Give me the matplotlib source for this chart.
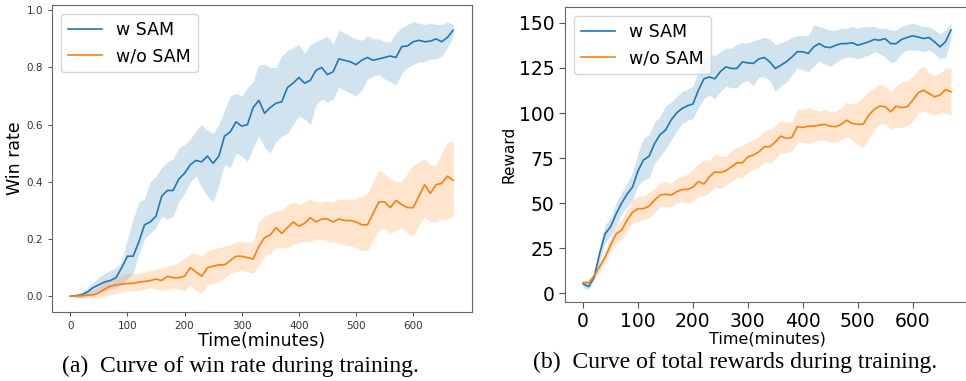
import numpy as np
import matplotlib
matplotlib.use('Agg')
from matplotlib import pyplot as plt

# time axis (minutes), one sample every 10 minutes
t = np.arange(0, 680, 10)

# win rate, w SAM
win_sam = [0.0, 0.002, 0.005, 0.015, 0.03, 0.04, 0.05, 0.055, 0.065, 0.10,
           0.14, 0.14, 0.19, 0.25, 0.26, 0.28, 0.35, 0.37, 0.37, 0.41,
           0.43, 0.46, 0.475, 0.47, 0.49, 0.465, 0.49, 0.56, 0.575, 0.61,
           0.595, 0.60, 0.66, 0.685, 0.64, 0.66, 0.675, 0.68, 0.73, 0.745,
           0.765, 0.745, 0.755, 0.79, 0.80, 0.775, 0.785, 0.83, 0.825, 0.82,
           0.81, 0.825, 0.835, 0.825, 0.83, 0.835, 0.84, 0.835, 0.873, 0.875,
           0.89, 0.895, 0.89, 0.892, 0.90, 0.89, 0.905, 0.93]
win_sam_hi = [0.0, 0.008, 0.015, 0.03, 0.05, 0.065, 0.08, 0.09, 0.10, 0.12,
              0.20, 0.27, 0.33, 0.34, 0.40, 0.42, 0.45, 0.47, 0.48, 0.52,
              0.53, 0.55, 0.58, 0.60, 0.58, 0.57, 0.60, 0.65, 0.70, 0.71,
              0.70, 0.73, 0.75, 0.81, 0.81, 0.80, 0.80, 0.84, 0.86, 0.87,
              0.88, 0.85, 0.88, 0.89, 0.90, 0.91, 0.88, 0.93, 0.92, 0.91,
              0.90, 0.895, 0.91, 0.90, 0.90, 0.89, 0.89, 0.92, 0.94, 0.95,
              0.96, 0.955, 0.95, 0.955, 0.95, 0.95, 0.96, 0.95]
win_sam_lo = [0.0, -0.004, -0.005, 0.0, 0.01, 0.015, 0.02, 0.025, 0.03, 0.04,
              0.06, 0.08, 0.15, 0.20, 0.22, 0.24, 0.28, 0.27, 0.28, 0.33,
              0.36, 0.40, 0.42, 0.38, 0.35, 0.33, 0.39, 0.46, 0.45, 0.50,
              0.49, 0.47, 0.52, 0.56, 0.52, 0.50, 0.54, 0.56, 0.57, 0.60,
              0.63, 0.62, 0.60, 0.67, 0.69, 0.68, 0.69, 0.73, 0.72, 0.71,
              0.70, 0.72, 0.76, 0.77, 0.775, 0.76, 0.75, 0.74, 0.78, 0.80,
              0.81, 0.82, 0.82, 0.83, 0.83, 0.84, 0.87, 0.91]

# win rate, w/o SAM
win_nosam = [0.0, 0.001, 0.002, 0.004, 0.005, 0.012, 0.025, 0.035, 0.04, 0.042,
             0.045, 0.045, 0.05, 0.052, 0.055, 0.06, 0.055, 0.07, 0.065, 0.065,
             0.07, 0.10, 0.085, 0.07, 0.10, 0.105, 0.11, 0.11, 0.125, 0.14,
             0.14, 0.135, 0.13, 0.175, 0.205, 0.215, 0.24, 0.22, 0.24, 0.26,
             0.245, 0.255, 0.275, 0.26, 0.27, 0.27, 0.26, 0.27, 0.265, 0.265,
             0.26, 0.25, 0.25, 0.29, 0.33, 0.33, 0.31, 0.335, 0.32, 0.31,
             0.31, 0.35, 0.39, 0.36, 0.39, 0.395, 0.42, 0.405]
win_nosam_hi = [0.0, 0.005, 0.01, 0.015, 0.02, 0.035, 0.05, 0.06, 0.07, 0.075,
                0.08, 0.08, 0.08, 0.085, 0.09, 0.095, 0.10, 0.105, 0.11, 0.12,
                0.13, 0.15, 0.15, 0.14, 0.16, 0.165, 0.17, 0.175, 0.18, 0.19,
                0.19, 0.19, 0.19, 0.26, 0.28, 0.29, 0.30, 0.30, 0.32, 0.33,
                0.32, 0.33, 0.34, 0.33, 0.33, 0.335, 0.33, 0.34, 0.34, 0.34,
                0.34, 0.35, 0.36, 0.40, 0.44, 0.43, 0.41, 0.40, 0.40, 0.43,
                0.46, 0.47, 0.48, 0.46, 0.46, 0.50, 0.54, 0.54]
win_nosam_lo = [0.0, -0.003, -0.005, -0.005, -0.005, -0.003, 0.0, 0.005, 0.01, 0.015,
                0.02, 0.02, 0.02, 0.025, 0.03, 0.025, 0.02, 0.025, 0.03, 0.025,
                0.02, 0.04, 0.02, 0.01, 0.04, 0.045, 0.05, 0.065, 0.08, 0.085,
                0.09, 0.085, 0.08, 0.11, 0.14, 0.15, 0.17, 0.17, 0.17, 0.18,
                0.19, 0.19, 0.19, 0.20, 0.20, 0.19, 0.19, 0.185, 0.18, 0.175,
                0.17, 0.16, 0.16, 0.20, 0.23, 0.24, 0.22, 0.23, 0.24, 0.22,
                0.21, 0.25, 0.28, 0.26, 0.26, 0.27, 0.27, 0.28]

# total reward, w SAM
rew_sam = [5.2, 3.7, 9, 22, 33, 37, 44, 50, 55, 59,
           68, 74, 76, 83, 88, 90.5, 96, 100, 102.5, 104,
           105, 112.7, 119, 120, 119, 123, 125.6, 124.7, 124.7, 128.4,
           127.8, 127.5, 130, 130.8, 128.4, 124.7, 126.5, 128.4, 131, 134,
           134, 133, 136.7, 138.5, 136.7, 136.3, 137.6, 138.5, 138.5, 139,
           137.6, 138.5, 139.5, 140.8, 140.4, 141.3, 138.5, 138.5, 140.8, 141.9,
           142.8, 142.2, 141.3, 141.9, 139.5, 136.7, 139.5, 146]
rew_sam_hi = [7, 6, 11, 26, 38, 42, 50, 56, 61, 67,
              78, 86, 88, 95, 98, 104, 106, 109, 112, 113,
              115, 123, 130, 132, 132, 134, 136, 136, 138, 139,
              139, 140, 141, 142, 141, 138, 139, 140, 142, 143,
              143, 143, 149, 148, 147, 146, 146, 147, 147, 148,
              147, 148, 148, 148, 147, 147, 146, 146, 148, 149,
              150, 149, 148, 148, 146, 144, 146, 150]
rew_sam_lo = [3, 2, 7, 18, 28, 32, 38, 44, 48, 52,
              60, 63, 64, 72, 76, 80, 85, 90, 94, 96,
              97, 103, 108, 110, 108, 112, 115, 114, 114, 117,
              118, 115, 120, 120, 118, 112, 115, 117, 121, 125,
              124, 123, 126, 129, 127, 126, 128, 130, 131, 131,
              130, 131, 132, 134, 133, 131, 128, 129, 133, 135,
              135, 135, 134, 135, 133, 130, 131, 141]

# total reward, w/o SAM
rew_nosam = [6, 6, 9.6, 14.8, 20, 26.8, 33, 35, 40.6, 45,
             47, 47, 48.4, 51.7, 54.5, 55, 54.5, 56.3, 57.6, 57.6,
             59, 62, 60.6, 64.7, 67.4, 67, 68, 70.2, 72.4, 72.4,
             75.7, 76.7, 78.5, 81.3, 81.3, 84, 87.2, 85.9, 86.5, 92.4,
             92, 92.7, 92.7, 93.3, 93.8, 92.7, 92.4, 93.8, 96, 94.2,
             93.8, 93.8, 98.8, 102, 103.8, 103.5, 100.7, 103.8, 103, 103.5,
             107, 111.2, 112.7, 110.8, 109, 110, 113, 111.8]
rew_nosam_hi = [7, 7, 12, 18, 24, 31, 38, 41, 47, 52,
                54, 54, 56, 58, 61, 62, 61, 64, 65, 66,
                69, 72, 74, 74, 77, 76, 76, 79, 81, 82,
                84, 85, 87, 90, 91, 93, 96, 95, 95, 102,
                102, 103, 102, 101, 102, 101, 101, 103, 106, 105,
                106, 109, 112, 114, 116, 115, 112, 115, 117, 118,
                120, 124, 126, 122, 121, 122, 125, 125]
rew_nosam_lo = [5, 5, 8, 12, 17, 23, 28, 30, 35, 39,
                40, 41, 42, 45, 48, 48, 48, 50, 51, 50,
                51, 54, 54, 56, 59, 58, 60, 62, 64, 64,
                67, 69, 70, 73, 72, 75, 78, 78, 79, 84,
                84, 83, 84, 85, 85, 84, 84, 85, 87, 85,
                82, 81, 86, 91, 94, 94, 91, 92, 92, 93,
                95, 100, 101, 100, 99, 100, 100, 99]

blue = '#1f77b4'
orange = '#ff7f0e'

fig = plt.figure(figsize=(9.66, 3.81), dpi=100)

# (a) win rate
ax1 = fig.add_axes([0.0538, 0.1811, 0.4348, 0.8058])
ax1.plot(t, win_sam, color=blue, lw=1.2, label='w SAM')
ax1.fill_between(t, win_sam_lo, win_sam_hi, color=blue, alpha=0.2, lw=0)
ax1.plot(t, win_nosam, color=orange, lw=1.2, label='w/o SAM')
ax1.fill_between(t, win_nosam_lo, win_nosam_hi, color=orange, alpha=0.2, lw=0)
ax1.set_xlim(-32, 703)
ax1.set_ylim(-0.055, 1.0185)
ax1.set_xticks([0, 100, 200, 300, 400, 500, 600])
ax1.set_yticks([0.0, 0.2, 0.4, 0.6, 0.8, 1.0])
ax1.tick_params(labelsize=7.5, length=3, width=0.6, colors='#333333')
for s in ax1.spines.values():
    s.set_color('#666666')
    s.set_linewidth(0.8)
ax1.set_xlabel('Time(minutes)', fontsize=12.5, labelpad=1)
ax1.set_ylabel('Win rate', fontsize=12.5, labelpad=2)
ax1.legend(loc='upper left', fontsize=12.5)

# (b) total rewards
ax2 = fig.add_axes([0.5849, 0.2073, 0.4200, 0.7743])
ax2.plot(t, rew_sam, color=blue, lw=1.2, label='w SAM')
ax2.fill_between(t, rew_sam_lo, rew_sam_hi, color=blue, alpha=0.2, lw=0)
ax2.plot(t, rew_nosam, color=orange, lw=1.2, label='w/o SAM')
ax2.fill_between(t, rew_nosam_lo, rew_nosam_hi, color=orange, alpha=0.2, lw=0)
ax2.set_xlim(-33, 706)
ax2.set_ylim(-4.8, 158.8)
ax2.set_xticks([0, 100, 200, 300, 400, 500, 600])
ax2.set_yticks([0, 25, 50, 75, 100, 125, 150])
ax2.tick_params(labelsize=13.5, length=4, width=0.8, color='#555555')
for s in ax2.spines.values():
    s.set_color('#666666')
ax2.set_xlabel('Time(minutes)', fontsize=11.5, labelpad=0)
ax2.set_ylabel('Reward', fontsize=11, labelpad=2)
ax2.legend(loc='upper left', fontsize=12.5)

fig.text(0.249, 0.039, '(a)  Curve of win rate during training.', ha='center', va='center',
         family='Liberation Serif', fontsize=17)
fig.text(0.761, 0.05, '(b)  Curve of total rewards during training.', ha='center', va='center',
         family='Liberation Serif', fontsize=17)

fig.savefig('out.png', dpi=100)
